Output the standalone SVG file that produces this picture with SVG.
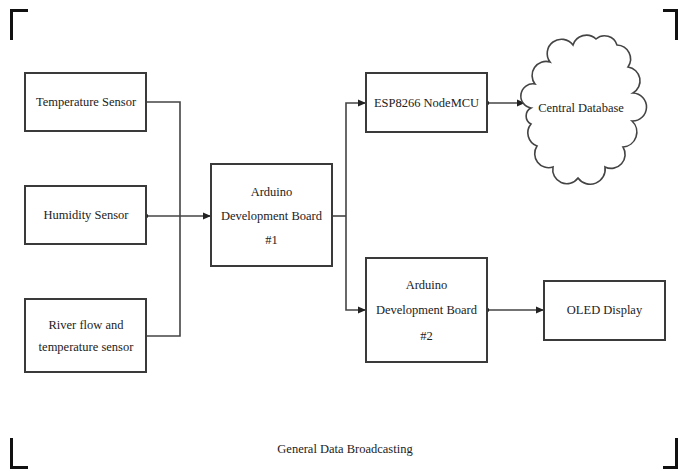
<svg xmlns="http://www.w3.org/2000/svg" width="678" height="471" viewBox="0 0 678 471">
<style>
.box{fill:#fff;stroke:#3a3a3a;stroke-width:2}
.t{font-family:"Liberation Serif","Times New Roman",serif;font-size:12.5px;fill:#222;text-anchor:middle;dominant-baseline:central}
.c{fill:none;stroke:#444;stroke-width:1.6}
.mk{fill:none;stroke:#111;stroke-width:3}
</style>
<defs>
<marker id="ah" markerWidth="8" markerHeight="8" refX="7" refY="4" orient="auto" markerUnits="userSpaceOnUse">
<path d="M0,0.5 L8,4 L0,7.5 Z" fill="#222"/>
</marker>
<marker id="dot" markerWidth="5" markerHeight="5" refX="2.5" refY="2.5" markerUnits="userSpaceOnUse">
<circle cx="2.5" cy="2.5" r="2.2" fill="#222"/>
</marker>
</defs>
<rect width="678" height="471" fill="#fff"/>
<g id="corners">
<path class="mk" d="M11.5,40 V10.5 H28"/>
<path class="mk" d="M663,10.5 H676.5 V40"/>
<path class="mk" d="M11.5,438 V467.5 H28"/>
<path class="mk" d="M663,467.5 H676.5 V438"/>
</g>
<g id="connectors">
<path class="c" d="M146,102 H180 V336 H146"/>
<path class="c" d="M146,216 H210" marker-start="url(#dot)" marker-end="url(#ah)"/>
<path class="c" d="M332,216 H346"/>
<path class="c" d="M346,216 V103 H365" marker-end="url(#ah)"/>
<path class="c" d="M346,216 V310 H365" marker-end="url(#ah)"/>
<path class="c" d="M487,103 H524" marker-start="url(#dot)" marker-end="url(#ah)"/>
<path class="c" d="M487,310 H543" marker-start="url(#dot)" marker-end="url(#ah)"/>
</g>
<g id="temp">
<rect class="box" x="25" y="73" width="121" height="58"/>
<text class="t" x="86" y="102">Temperature Sensor</text>
</g>
<g id="humidity">
<rect class="box" x="25" y="186" width="121" height="58"/>
<text class="t" x="86" y="215">Humidity Sensor</text>
</g>
<g id="river">
<rect class="box" x="25" y="299" width="121" height="73"/>
<text class="t" x="86" y="325">River flow and</text>
<text class="t" x="86" y="347">temperature sensor</text>
</g>
<g id="arduino1">
<rect class="box" x="211" y="164" width="121" height="102"/>
<text class="t" x="271.5" y="192">Arduino</text>
<text class="t" x="271.5" y="216">Development Board</text>
<text class="t" x="271.5" y="240">#1</text>
</g>
<g id="esp">
<rect class="box" x="366" y="73" width="121" height="59"/>
<text class="t" x="426.5" y="103">ESP8266 NodeMCU</text>
</g>
<g id="cloud">
<path fill="#fff" stroke="#444" stroke-width="1.6" d="M531,108 A12,12 0 0 1 535,84 A14,14 0 0 1 550,62 A14,14 0 0 1 573,45 A14,14 0 0 1 596,39 A13,13 0 0 1 617,45 A14,14 0 0 1 628,67 A14,14 0 0 1 633,93 A14,14 0 0 1 632,121 A15,15 0 0 1 623,147 A14,14 0 0 1 605,167 A15,15 0 0 1 578,178 A14,14 0 0 1 553,167 A14,14 0 0 1 537,146 A14,14 0 0 1 531,124 A9,9 0 0 1 531,108 Z"/>
<text class="t" x="581" y="108">Central Database</text>
</g>
<g id="arduino2">
<rect class="box" x="366" y="258" width="121" height="104"/>
<text class="t" x="426.5" y="285">Arduino</text>
<text class="t" x="426.5" y="310">Development Board</text>
<text class="t" x="426.5" y="336">#2</text>
</g>
<g id="oled">
<rect class="box" x="544" y="281" width="121" height="59"/>
<text class="t" x="604.5" y="310">OLED Display</text>
</g>
<text class="t" x="345" y="449">General Data Broadcasting</text>
</svg>
